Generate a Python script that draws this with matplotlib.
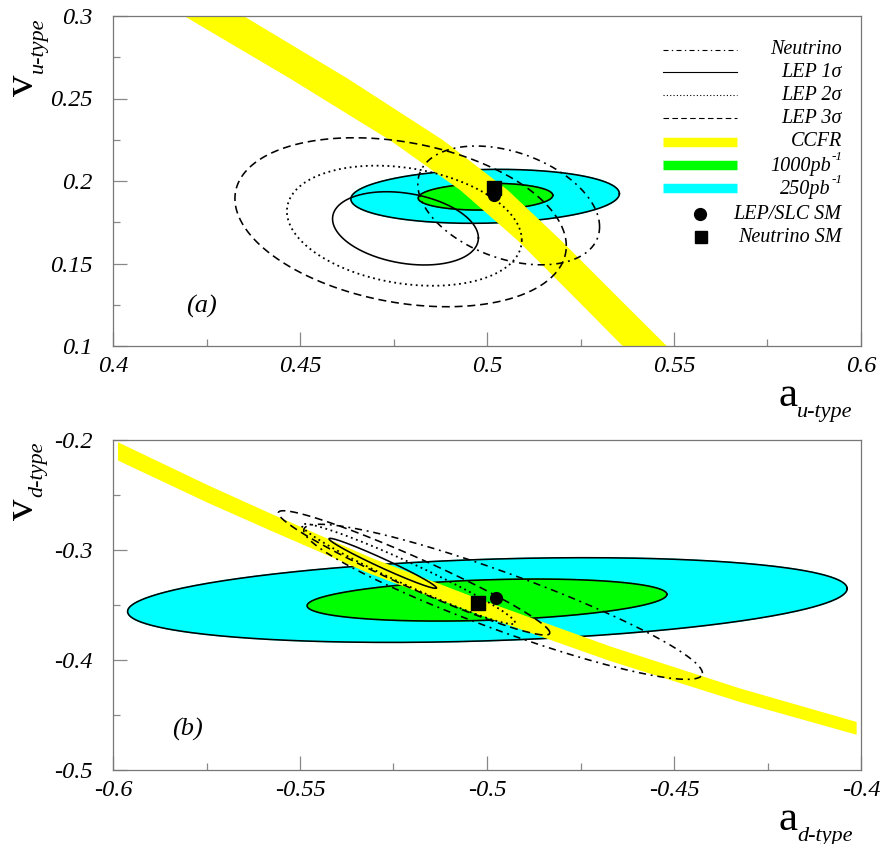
import numpy as np
import matplotlib
matplotlib.use("Agg")
import matplotlib.pyplot as plt
from matplotlib.ticker import MultipleLocator, FuncFormatter

plt.rcParams['font.family'] = ['Liberation Serif', 'DejaVu Serif']
plt.rcParams['font.style'] = 'italic'
plt.rcParams['axes.unicode_minus'] = False

# ---------------- data: panel (a) u-type ----------------
# CCFR band: v levels and left/right a edges
ccfr_u_v = [0.3000, 0.2624, 0.2249, 0.1946, 0.1642, 0.1279, 0.1006, 0.0988]
ccfr_u_alo = [0.4191, 0.4472, 0.4740, 0.4928, 0.5081, 0.5241, 0.5360, 0.5368]
ccfr_u_ahi = [0.4350, 0.4626, 0.4882, 0.5055, 0.5197, 0.5357, 0.5478, 0.5486]

# ellipses: centre a, centre v, half-extent a, half-extent v, correlation
ell_names = ["Neutrino", "LEP1", "LEP2", "LEP3", "L1000", "L250"]
u_ell_ca = [0.5058, 0.4782, 0.4779, 0.4769, 0.4996, 0.4995]
u_ell_cv = [0.1852, 0.1713, 0.1729, 0.1750, 0.1905, 0.1907]
u_ell_sa = [0.0243, 0.0195, 0.0314, 0.0443, 0.0180, 0.0359]
u_ell_sv = [0.0360, 0.0222, 0.0364, 0.0512, 0.0081, 0.01635]
u_ell_rho = [-0.36, -0.26, -0.24, -0.28, 0.10, 0.10]

u_sm_lep = (0.5020, 0.1915)
u_sm_nu = (0.5020, 0.1958)

# ---------------- data: panel (b) d-type ----------------
ccfr_d_a = [-0.5988, -0.5746, -0.5580, -0.5313, -0.5027, -0.4671, -0.4324, -0.4013]
ccfr_d_vhi = [-0.2016, -0.2409, -0.2664, -0.3064, -0.3436, -0.3873, -0.4255, -0.4559]
ccfr_d_vlo = [-0.2182, -0.2569, -0.2819, -0.3213, -0.3578, -0.4006, -0.4378, -0.4675]

d_ell_ca = [-0.4957, -0.5279, -0.5210, -0.5195, -0.5000, -0.4999]
d_ell_cv = [-0.3471, -0.3121, -0.3218, -0.3208, -0.3455, -0.3455]
d_ell_sa = [0.0533, 0.01434, 0.0285, 0.0363, 0.0481, 0.0962]
d_ell_sv = [0.0705, 0.0227, 0.0455, 0.0565, 0.0191, 0.0385]
d_ell_rho = [-0.92, -0.98, -0.97, -0.963, 0.27, 0.27]

d_sm_lep = (-0.4977, -0.3436)
d_sm_nu = (-0.5025, -0.3485)

legend_labels = ["Neutrino", "LEP 1σ", "LEP 2σ", "LEP 3σ", "CCFR",
                 "1000pb", "250pb", "LEP/SLC SM", "Neutrino SM"]
legend_sups = ["", "", "", "", "", "-1", "-1", "", ""]

# ---------------- styles ----------------
YELLOW = "#ffff00"
GREEN = "#00ff00"
CYAN = "#00ffff"
line_styles = {
    "Neutrino": (0, (4.5, 3, 1.2, 3)),
    "LEP1": "-",
    "LEP2": (0, (1, 2)),
    "LEP3": (0, (5, 3)),
}
LW = {"Neutrino": 1.15, "LEP1": 1.15, "LEP2": 1.3, "LEP3": 1.15}


def ellipse(ca, cv, sa, sv, rho, n=400):
    t = np.linspace(0, 2 * np.pi, n)
    phi = np.arccos(rho)
    return ca + sa * np.cos(t), cv + sv * np.cos(t - phi)


fig = plt.figure(figsize=(8.81, 8.44), dpi=100)
W, H = 881.0, 844.0
ax1 = fig.add_axes([113 / W, 1 - 346 / H, 748 / W, 330 / H])
ax2 = fig.add_axes([113 / W, 1 - 770 / H, 748 / W, 330 / H])


def style_axes(ax, xlim, ylim, xmaj, xmin, ymaj, ymin):
    ax.set_xlim(*xlim)
    ax.set_ylim(*ylim)
    ax.xaxis.set_major_locator(MultipleLocator(xmaj))
    ax.xaxis.set_minor_locator(MultipleLocator(xmin))
    ax.yaxis.set_major_locator(MultipleLocator(ymaj))
    ax.yaxis.set_minor_locator(MultipleLocator(ymin))
    fmt = FuncFormatter(lambda x, p: f"{round(x, 4):g}")
    ax.xaxis.set_major_formatter(fmt)
    ax.yaxis.set_major_formatter(fmt)
    for s in ax.spines.values():
        s.set_color("#777777")
        s.set_linewidth(0.9)
    ax.tick_params(which='both', direction='in', top=False, right=False,
                   color="#888888", width=0.9, labelsize=17.5)
    ax.tick_params(which='major', length=10)
    ax.tick_params(which='minor', length=5)
    ax.tick_params(axis='x', which='major', pad=7)
    ax.tick_params(axis='y', which='major', pad=15)


style_axes(ax1, (0.4, 0.6), (0.1, 0.3), 0.05, 0.025, 0.05, 0.025)
style_axes(ax2, (-0.6, -0.4), (-0.5, -0.2), 0.05, 0.025, 0.1, 0.05)

# ---- panel (a)
for i in [5, 4]:
    x, y = ellipse(u_ell_ca[i], u_ell_cv[i], u_ell_sa[i], u_ell_sv[i], u_ell_rho[i])
    ax1.fill(x, y, color=CYAN if i == 5 else GREEN, zorder=1)
    ax1.plot(x, y, color='black', lw=1.15, zorder=1.1)
ax1.fill_betweenx(ccfr_u_v, ccfr_u_alo, ccfr_u_ahi, color=YELLOW, lw=0, zorder=2)
for i, nm in enumerate(ell_names[:4]):
    x, y = ellipse(u_ell_ca[i], u_ell_cv[i], u_ell_sa[i], u_ell_sv[i], u_ell_rho[i])
    ax1.plot(x, y, color='black', lw=LW[nm], ls=line_styles[nm], zorder=3)
ax1.plot(*u_sm_lep, 'o', color='black', ms=8.5, zorder=4)
ax1.plot(*u_sm_nu, 's', color='black', ms=9.5, zorder=4)

# ---- panel (b)
for i in [5, 4]:
    x, y = ellipse(d_ell_ca[i], d_ell_cv[i], d_ell_sa[i], d_ell_sv[i], d_ell_rho[i])
    ax2.fill(x, y, color=CYAN if i == 5 else GREEN, zorder=1)
    ax2.plot(x, y, color='black', lw=1.15, zorder=1.1)
ax2.fill_between(ccfr_d_a, ccfr_d_vlo, ccfr_d_vhi, color=YELLOW, lw=0, zorder=2)
for i, nm in enumerate(ell_names[:4]):
    x, y = ellipse(d_ell_ca[i], d_ell_cv[i], d_ell_sa[i], d_ell_sv[i], d_ell_rho[i])
    ax2.plot(x, y, color='black', lw=LW[nm], ls=line_styles[nm], zorder=3)
ax2.plot(*d_sm_lep, 'o', color='black', ms=8.5, zorder=4)
ax2.plot(*d_sm_nu, 's', color='black', ms=10, zorder=4)

# ---- legend (panel a), drawn in axes coordinates
rows = [0.8970, 0.8294, 0.7606, 0.6900, 0.6182, 0.5494, 0.4788, 0.3991, 0.3294]
hx0, hx1, tx = 0.7357, 0.8338, 0.9742
tx_main_sup = 0.9595
tx_sup = 0.9612
tr = ax1.transAxes
for k, nm in enumerate(["Neutrino", "LEP1", "LEP2", "LEP3"]):
    ax1.plot([hx0, hx1], [rows[k]] * 2, transform=tr, color='black',
             lw=0.8, ls=line_styles[nm], zorder=5)
for k, c in zip([4, 5, 6], [YELLOW, GREEN, CYAN]):
    ax1.plot([hx0, hx1], [rows[k]] * 2, transform=tr, color=c, lw=6.8,
             solid_capstyle='butt', zorder=5)
ax1.plot([0.7848], [rows[7]], 'o', transform=tr, color='black', ms=8.5, zorder=5)
ax1.plot([0.7861], [rows[8]], 's', transform=tr, color='black', ms=8.5, zorder=5)
for k, lab in enumerate(legend_labels):
    sup = legend_sups[k]
    if sup:
        ax1.text(tx_main_sup, rows[k] - 0.006, lab, transform=tr, ha='right',
                 va='center', fontsize=14.5, zorder=6)
        ax1.text(tx_sup, rows[k] + 0.024, sup, transform=tr, ha='left',
                 va='center', fontsize=9.5, zorder=6)
    else:
        ax1.text(tx, rows[k], lab, transform=tr, ha='right', va='center',
                 fontsize=14.5, zorder=6)

# ---- panel labels
ax1.text((201.5 - 113) / 748, 1 - (306 - 16) / 330, "(a)", transform=ax1.transAxes,
         ha='center', va='center', fontsize=19)
ax2.text((187.6 - 113) / 748, 1 - (729 - 440) / 330, "(b)", transform=ax2.transAxes,
         ha='center', va='center', fontsize=19)


# ---- axis titles
def ftext(x, y, s, **kw):
    fig.text(x / W, 1 - y / H, s, **kw)


for top, sub in [(16, "u-type"), (440, "d-type")]:
    ftext(23, top + 69, "v", rotation=90, ha='center', va='center', fontsize=31,
          fontstyle='normal')
    ftext(38, top + 29, sub, rotation=90, ha='center', va='center', fontsize=16)
for bot, sub in [(346, "u-type"), (770, "d-type")]:
    ftext(788, bot + 50, "a", ha='center', va='center', fontsize=31,
          fontstyle='normal')
    ftext(797, bot + 66, sub, ha='left', va='center', fontsize=16)

fig.savefig("out.png", dpi=100)
